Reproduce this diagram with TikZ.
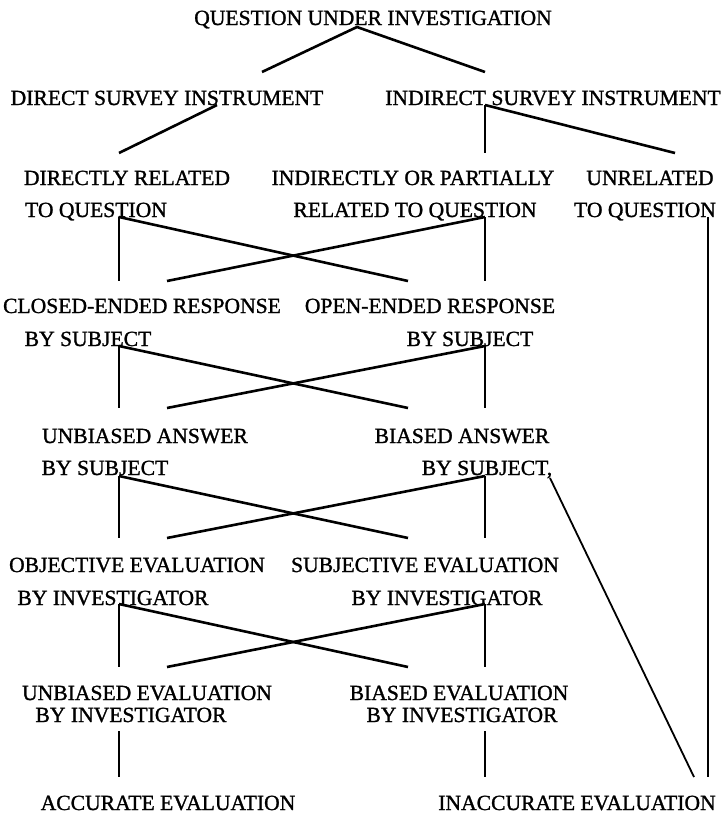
\documentclass[tikz,border=0pt]{standalone}
\usepackage{fontspec}
\setmainfont{Liberation Serif}
\newfontfamily\lblfont{Liberation Serif}[FakeBold=1.2]
\begin{document}
\begin{tikzpicture}[x=1pt,y=-1pt,
  lbl/.style={inner sep=0pt, anchor=base, font=\lblfont\fontsize{21.6}{24}\selectfont},
  diag/.style={line width=2.6pt},
  vert/.style={line width=1.8pt}]
\useasboundingbox (0,0) rectangle (724,814);
% labels
\node[lbl] (q)    at (373,25)  {QUESTION UNDER INVESTIGATION};
\node[lbl] (dsi)  at (167,105) {DIRECT SURVEY INSTRUMENT};
\node[lbl] (isi)  at (553,105) {INDIRECT SURVEY INSTRUMENT};
\node[lbl] (dra)  at (127,185) {DIRECTLY RELATED};
\node[lbl] (drb)  at (96,217)  {TO QUESTION};
\node[lbl] (ira)  at (413,185) {INDIRECTLY OR PARTIALLY};
\node[lbl] (irb)  at (415,217) {RELATED TO QUESTION};
\node[lbl] (ura)  at (650,185) {UNRELATED};
\node[lbl] (urb)  at (645,217) {TO QUESTION};
\node[lbl] (cea)  at (142,313) {CLOSED-ENDED RESPONSE};
\node[lbl] (ceb)  at (88,346)  {BY SUBJECT};
\node[lbl] (oea)  at (430,313) {OPEN-ENDED RESPONSE};
\node[lbl] (oeb)  at (470,346) {BY SUBJECT};
\node[lbl] (uaa)  at (145,443) {UNBIASED ANSWER};
\node[lbl] (uab)  at (105,475) {BY SUBJECT};
\node[lbl] (baa)  at (462,443) {BIASED ANSWER};
\node[lbl] (bab)  at (487,475) {BY SUBJECT,};
\node[lbl] (obja) at (137,572) {OBJECTIVE EVALUATION};
\node[lbl] (objb) at (113,605) {BY INVESTIGATOR};
\node[lbl] (suba) at (425,572) {SUBJECTIVE EVALUATION};
\node[lbl] (subb) at (447,605) {BY INVESTIGATOR};
\node[lbl] (uea)  at (147,700) {UNBIASED EVALUATION};
\node[lbl] (ueb)  at (131,722) {BY INVESTIGATOR};
\node[lbl] (bea)  at (459,700) {BIASED EVALUATION};
\node[lbl] (beb)  at (462,722) {BY INVESTIGATOR};
\node[lbl] (acc)  at (168,810) {ACCURATE EVALUATION};
\node[lbl] (inacc) at (577,810) {INACCURATE EVALUATION};
% connector end points
\coordinate (apex) at (357,27);
\coordinate (tl) at (262,72);
\coordinate (tr) at (485,72);
\coordinate (d1) at (217,105);
\coordinate (d2) at (119,153);
\coordinate (i1) at (485,105);
\coordinate (i2) at (485,153);
\coordinate (i3) at (675,153);
\coordinate (r3l) at (119,217);
\coordinate (r3r) at (485,217);
\coordinate (r4lv) at (119,281);
\coordinate (r4rd) at (408,281);
\coordinate (r4rv) at (485,281);
\coordinate (r4ld) at (167,281);
\coordinate (fr1) at (708,217);
\coordinate (fr2) at (708,777);
\coordinate (s4l) at (119,346);
\coordinate (s4r) at (485,346);
\coordinate (s5lv) at (119,408);
\coordinate (s5rd) at (408,408);
\coordinate (s5rv) at (485,408);
\coordinate (s5ld) at (167,408);
\coordinate (s5l) at (119,476);
\coordinate (s5r) at (485,476);
\coordinate (s6lv) at (119,538);
\coordinate (s6rd) at (408,538);
\coordinate (s6rv) at (485,538);
\coordinate (s6ld) at (167,538);
\coordinate (lg1) at (550,478);
\coordinate (lg2) at (694,777);
\coordinate (s6l) at (119,604);
\coordinate (s6r) at (485,604);
\coordinate (s7lv) at (119,667);
\coordinate (s7rd) at (408,667);
\coordinate (s7rv) at (485,667);
\coordinate (s7ld) at (167,667);
\coordinate (s7l) at (119,731);
\coordinate (s8l) at (119,777);
\coordinate (s7r) at (485,731);
\coordinate (s8r) at (485,777);
% connectors
\draw[diag] (tl) -- (apex) -- (tr);
\draw[diag] (d1) -- (d2);
\draw[vert] (i1) -- (i2);
\draw[diag] (i1) -- (i3);
\draw[vert] (r3l) -- (r4lv);
\draw[diag] (r3l) -- (r4rd);
\draw[vert] (r3r) -- (r4rv);
\draw[diag] (r3r) -- (r4ld);
\draw[vert] (fr1) -- (fr2);
\draw[vert] (s4l) -- (s5lv);
\draw[diag] (s4l) -- (s5rd);
\draw[vert] (s4r) -- (s5rv);
\draw[diag] (s4r) -- (s5ld);
\draw[vert] (s5l) -- (s6lv);
\draw[diag] (s5l) -- (s6rd);
\draw[vert] (s5r) -- (s6rv);
\draw[diag] (s5r) -- (s6ld);
\draw[vert] (lg1) -- (lg2);
\draw[vert] (s6l) -- (s7lv);
\draw[diag] (s6l) -- (s7rd);
\draw[vert] (s6r) -- (s7rv);
\draw[diag] (s6r) -- (s7ld);
\draw[vert] (s7l) -- (s8l);
\draw[vert] (s7r) -- (s8r);
\end{tikzpicture}
\end{document}
